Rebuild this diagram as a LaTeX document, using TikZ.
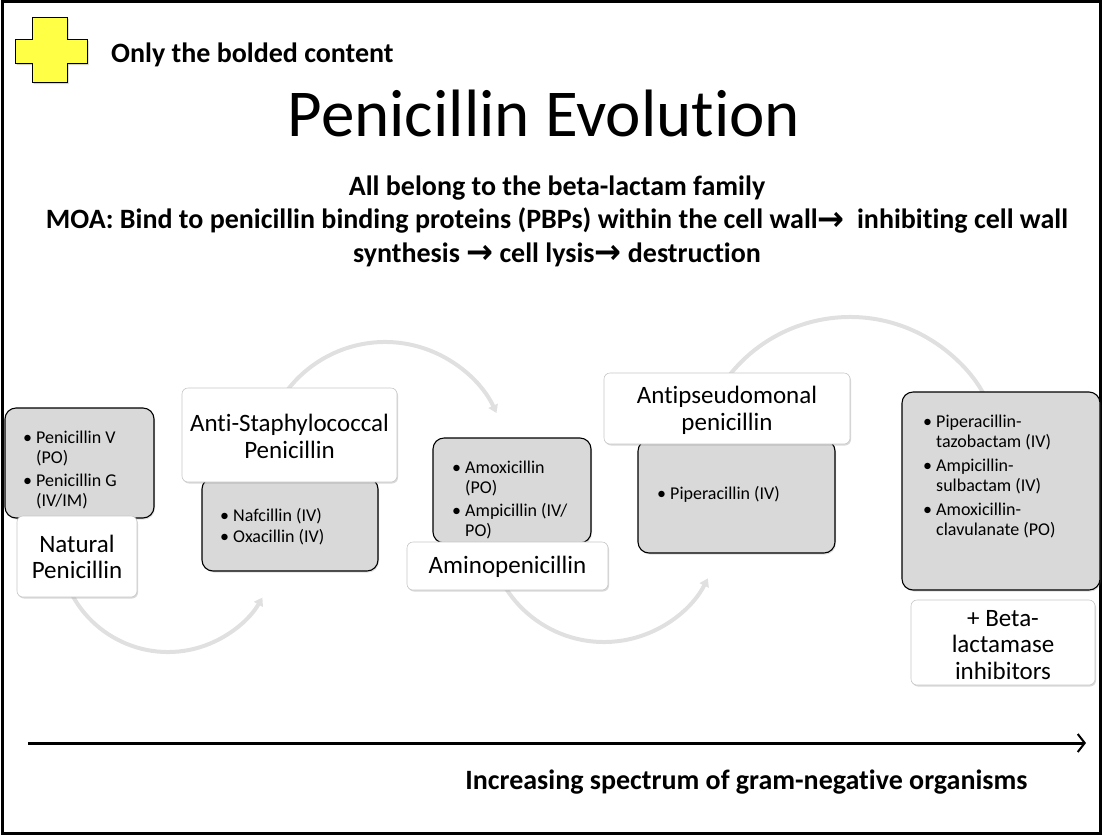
\documentclass[tikz,border=0pt]{standalone}
\usepackage{fontspec}
\setmainfont{Carlito}[Ligatures=NoCommon]
\newfontfamily\djv{DejaVu Sans}
\usetikzlibrary{shadows,arrows.meta}
\newcommand{\bul}{\makebox[13pt][l]{•}}
\newcommand{\ind}{\hspace*{13pt}}
\newcommand{\rarr}{{\djv\bfseries\raisebox{-1.8pt}{\scalebox{1.15}[1.2]{→}}}}
\tikzset{
  graybox/.style={draw=black, line width=1.1pt, fill=black!15, rounded corners=11pt,
    inner sep=0pt, drop shadow={opacity=0.25, shadow xshift=1pt, shadow yshift=-1.5pt}},
  whitebox/.style={draw=black!22, line width=0.6pt, fill=white, rounded corners=6pt,
    inner sep=0pt, drop shadow={opacity=0.3, shadow xshift=1pt, shadow yshift=-1.5pt}},
  bullets/.style={inner sep=0pt, anchor=west, align=left, font=\fontsize{18}{20}\selectfont},
  label/.style={inner sep=0pt, align=center, font=\fontsize{25}{26.5}\selectfont},
  flowarc/.style={draw=black!12, line width=4pt, -{Triangle[length=8pt,width=10pt]}},
  boldtext/.style={inner sep=0pt, font=\bfseries\fontsize{28}{33.5}\selectfont, align=center},
}
\begin{document}
\begin{tikzpicture}[x=1pt,y=-1pt]
\useasboundingbox (0,0) rectangle (1102,836);
\draw[line width=2.5pt] (2.5,1.5) rectangle (1100.5,833.5);

% yellow cross
\draw[fill={rgb,255:red,255;green,255;blue,70}, line width=1pt,
  drop shadow={opacity=0.35, shadow xshift=1.5pt, shadow yshift=-2pt}]
  (32,17) -- (67,17) -- (67,39) -- (87,39) -- (87,63) -- (67,63) -- (67,82)
  -- (32,82) -- (32,63) -- (15,63) -- (15,39) -- (32,39) -- cycle;

\node[boldtext, anchor=west] (note) at (111,55) {Only the bolded content};
\node[inner sep=0pt, font=\fontsize{67}{70}\selectfont] (title) at (544,113) {Penicillin Evolution};
\node[boldtext] (moa) at (557,221) {All belong to the beta-lactam family\\
MOA: Bind to penicillin binding proteins (PBPs) within the cell wall\rarr\ \ inhibiting cell wall\\
synthesis \rarr\ cell lysis\rarr\ destruction};

% arcs (behind boxes)
\coordinate (c1) at (168,543);
\coordinate (c2) at (385,465);
\coordinate (c3) at (604,525.5);
\coordinate (c4) at (850,471);
\draw[flowarc] ([shift={(160:109)}]c1) arc[start angle=160, end angle=30, radius=109];
\draw[flowarc] ([shift={(-160:123)}]c2) arc[start angle=-160, end angle=-25, radius=123];
\draw[flowarc] ([shift={(165:116.5)}]c3) arc[start angle=165, end angle=27, radius=116.5];
\draw[flowarc] ([shift={(-150:154)}]c4) arc[start angle=-150, end angle=-27, radius=154];

% gray boxes
\node[graybox, minimum width=149pt, minimum height=110pt] (g1) at (79.5,463) {};
\node[graybox, minimum width=176pt, minimum height=93pt] (g2) at (290,524.5) {};
\node[graybox, minimum width=158pt, minimum height=105pt] (g3) at (512,490.5) {};
\node[graybox, minimum width=197pt, minimum height=113pt] (g4) at (736.5,496.5) {};
\node[graybox, minimum width=198pt, minimum height=198pt] (g5) at (1001,491) {};

% white boxes
\node[whitebox, minimum width=120pt, minimum height=81pt] (w1) at (77,556.5) {};
\node[whitebox, minimum width=215pt, minimum height=94pt] (w2) at (289.5,435) {};
\node[whitebox, minimum width=201pt, minimum height=48pt] (w3) at (507.5,566) {};
\node[whitebox, minimum width=246pt, minimum height=71pt] (w4) at (727,408.5) {};
\node[whitebox, minimum width=184pt, minimum height=85pt] (w5) at (1003,642.5) {};

% labels
\node[label] (l1) at (77,557) {Natural\\Penicillin};
\node[label] (l2) at (289.5,436.5) {Anti-Staphylococcal\\Penicillin};
\node[label] (l3) at (507.5,567) {Aminopenicillin};
\node[label] (l4) at (727,410.5) {Antipseudomonal\\penicillin};
\node[label] (l5) at (1003,645) {+ Beta-\\lactamase\\inhibitors};

% bullet lists
\node[bullets] (b1) at (23,469.5) {\bul Penicillin V\\\ind (PO)\\[3pt]\bul Penicillin G\\\ind (IV/IM)};
\node[bullets] (b2) at (220,526.5) {\bul Nafcillin (IV)\\[1pt]\bul Oxacillin (IV)};
\node[bullets] (b3) at (452,499.5) {\bul Amoxicillin\\\ind (PO)\\[3pt]\bul Ampicillin (IV/\\\ind PO)};
\node[bullets] (b4) at (657,494) {\bul Piperacillin (IV)};
\node[bullets] (b5) at (923,476.5) {\bul Piperacillin-\\\ind tazobactam (IV)\\[4pt]\bul Ampicillin-\\\ind sulbactam (IV)\\[4pt]\bul Amoxicillin-\\\ind clavulanate (PO)};

% spectrum arrow
\coordinate (axs) at (28,743);
\coordinate (axe) at (1086,743);
\draw[line width=3pt, -{Straight Barb[length=7pt,width=18pt,line width=2pt]}] (axs) -- (axe);
\node[boldtext] (spec) at (746.5,782) {Increasing spectrum of gram-negative organisms};
\end{tikzpicture}
\end{document}
